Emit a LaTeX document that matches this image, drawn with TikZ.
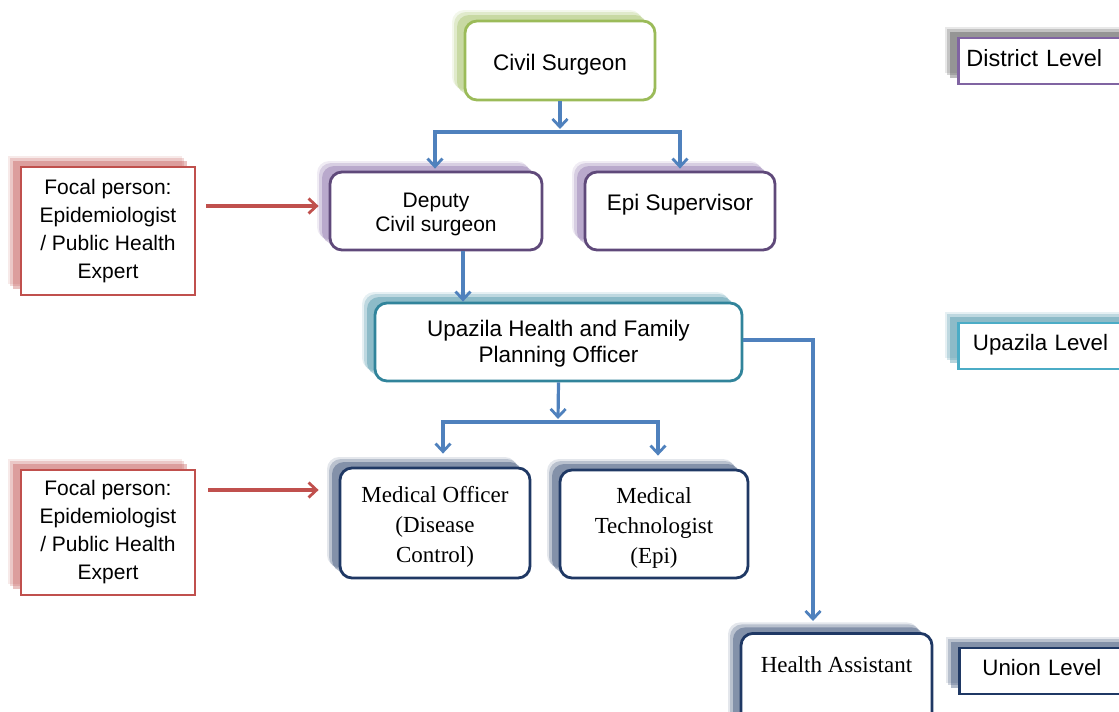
\documentclass[tikz,border=0pt]{standalone}
\usepackage{fontspec}
\setmainfont{Liberation Sans}
\newfontfamily\tnr{Liberation Serif}
\usetikzlibrary{arrows.meta,shadows}
\definecolor{cblue}{HTML}{4F81BD}
\definecolor{cred}{HTML}{C0504D}
\definecolor{cgreen}{HTML}{9BBB59}
\definecolor{cpurple}{HTML}{5F497A}
\definecolor{clpurple}{HTML}{8064A2}
\definecolor{cteal}{HTML}{31849B}
\definecolor{clteal}{HTML}{4BACC6}
\definecolor{cnavy}{HTML}{1F3864}
\tikzset{
  shad/.style={general shadow={fill=#1,opacity=.12,shadow xshift=-13pt,shadow yshift=11pt},
               general shadow={fill=#1,opacity=.22,shadow xshift=-11pt,shadow yshift=9pt},
               general shadow={fill=#1,opacity=.35,shadow xshift=-8pt,shadow yshift=6pt}},
  rbox/.style={draw=#1,line width=2.8pt,fill=white,rounded corners=12pt,align=center,
               font=\fontsize{21}{24}\selectfont,inner sep=4pt},
  sqbox/.style={draw=#1,line width=2.8pt,fill=white,align=center,
               font=\fontsize{21}{28}\selectfont,inner sep=4pt},
  lvbox/.style={draw=#1,line width=2.8pt,fill=white,anchor=west,text width=170pt,align=left,
               minimum height=46pt,font=\fontsize{22.3}{26}\selectfont},
  conn/.style={draw=cblue,line width=3.2pt,-{Straight Barb[length=8pt,width=15pt,line width=2.8pt]}},
  redarr/.style={draw=cred,line width=3.2pt,-{Straight Barb[length=8pt,width=15pt,line width=2.8pt]}},
}
\begin{document}
\begin{tikzpicture}[x=1pt,y=-1pt]
\path[use as bounding box,clip] (0,0) rectangle (1119,712);

% main boxes
\node[rbox=cgreen,shad=cgreen,minimum width=190pt,minimum height=79pt,text height=19pt,text depth=0pt,font=\fontsize{22.5}{26}\selectfont] (cs) at (560,60.5) {Civil Surgeon};
\node[rbox=cpurple,shad=clpurple,minimum width=212pt,minimum height=78pt,text height=41.4pt,text depth=0pt] (dep) at (436,211) {Deputy\\Civil surgeon};
\node[rbox=cpurple,shad=clpurple,minimum width=190pt,minimum height=78pt,text height=16pt,text depth=18pt,font=\fontsize{22.5}{26}\selectfont] (epi) at (680,211) {Epi Supervisor};
\node[rbox=cteal,shad=cteal,minimum width=367pt,minimum height=78pt,text height=41.4pt,text depth=0pt,font=\fontsize{22.5}{26}\selectfont] (up) at (558.5,342) {Upazila Health and Family\\Planning Officer};
\node[rbox=cnavy,shad=cnavy,minimum width=190pt,minimum height=110pt,text height=79.4pt,text depth=0pt,font=\tnr\fontsize{23}{30}\selectfont] (mo) at (435,523) {Medical Officer\\(Disease\\Control)};
\node[rbox=cnavy,shad=cnavy,minimum width=188pt,minimum height=108pt,text height=78pt,text depth=0pt,font=\tnr\fontsize{23}{30}\selectfont] (mt) at (654,524) {Medical\\Technologist\\(Epi)};
\node[rbox=cnavy,shad=cnavy,anchor=north,minimum width=191pt,text height=24pt,text depth=70pt,inner ysep=15pt,font=\tnr\fontsize{23}{26}\selectfont] (ha) at (836.5,632) {Health Assistant};

% focal boxes
\node[sqbox=cred,shad=cred,minimum width=174pt,minimum height=128pt] (f1) at (108,231) {Focal person:\\Epidemiologist\\/ Public Health\\Expert};
\node[sqbox=cred,shad=cred,minimum width=174pt,minimum height=125pt] (f2) at (108,532.5) {Focal person:\\Epidemiologist\\/ Public Health\\Expert};

% level boxes
\node[lvbox=clpurple,shad=black!75,inner xsep=8pt,text height=16pt,text depth=5.6pt,font=\fontsize{23.5}{26}\selectfont] (dl) at (957,61) {District Level};
\node[lvbox=clteal,shad=cteal,inner xsep=14.5pt,text height=16pt,text depth=8pt] (ul) at (957,346) {Upazila Level};
\node[lvbox=cnavy,shad=cnavy,inner xsep=23pt,text height=16pt,text depth=7.6pt] (nl) at (958,671) {Union Level};

% connectors district
\coordinate (b1) at (560,132);
\draw[conn] (cs.south) -- ([yshift=3pt]b1);
\draw[conn] (b1) -| ([xshift=-1pt,yshift=2pt]dep.north);
\draw[conn] (b1) -| ([yshift=2pt]epi.north);
\draw[conn] ([xshift=27pt]dep.south) -- ([xshift=27pt]dep.south |- up.north);

% connectors upazila
\coordinate (b2) at (558,422);
\draw[conn] (up.south) -- ([yshift=3pt]b2);
\draw[conn] (b2) -| ([xshift=8pt,yshift=13pt]mo.north);
\draw[conn] (b2) -| ([xshift=4pt,yshift=13pt]mt.north);
\draw[conn] ([yshift=2pt]up.east) -| ([xshift=-23.5pt,yshift=11pt]ha.north);

% red arrows
\coordinate (r1) at ([yshift=5pt,xshift=-10pt]dep.west);
\draw[redarr] ([xshift=10pt]f1.east |- r1) -- (r1);
\coordinate (r2) at ([yshift=33pt,xshift=-20pt]mo.west);
\draw[redarr] ([xshift=12pt]f2.east |- r2) -- (r2);
\end{tikzpicture}
\end{document}
